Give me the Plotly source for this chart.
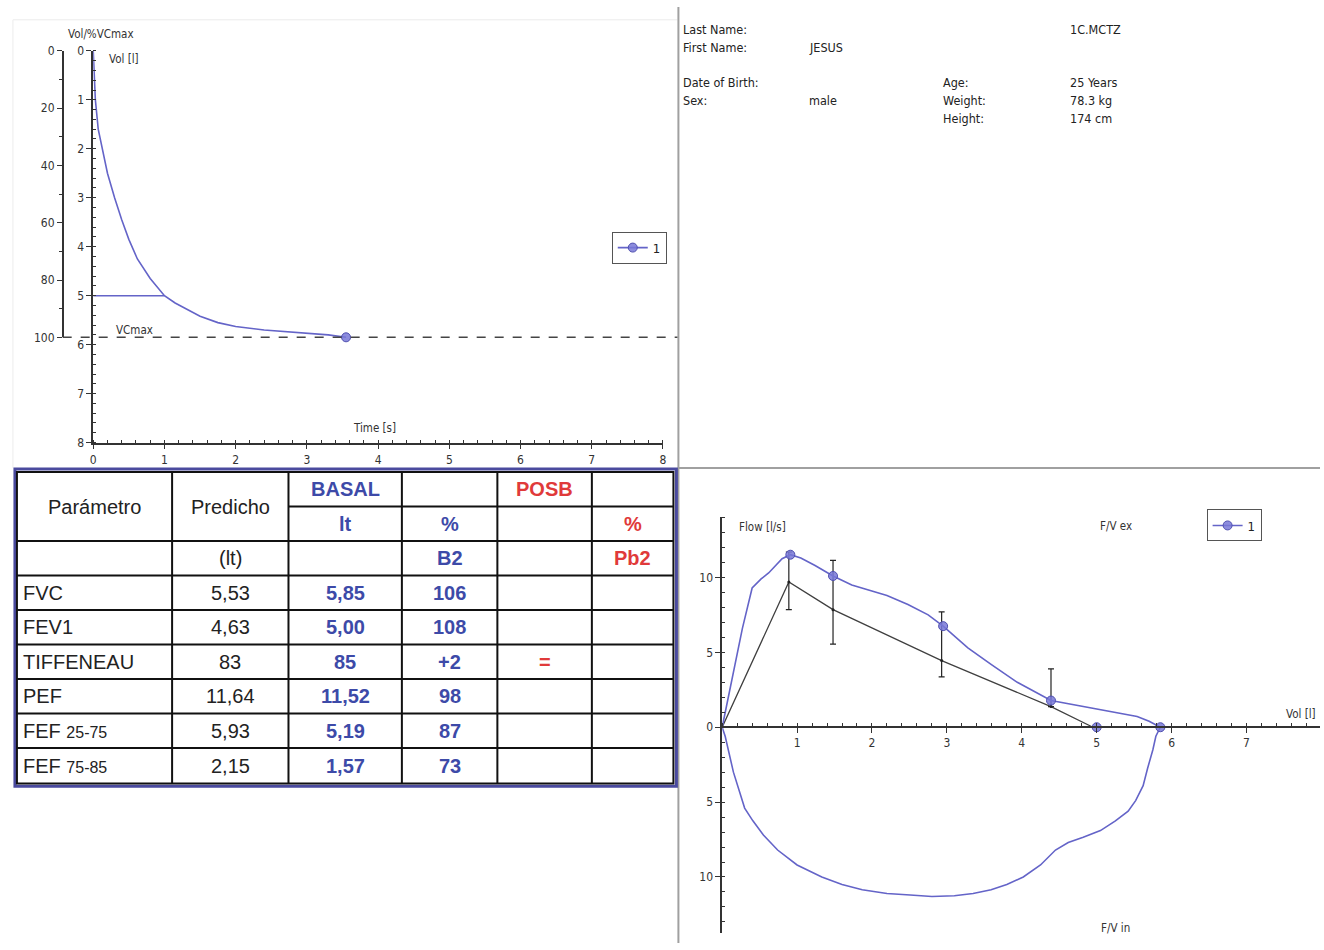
import plotly.graph_objects as go

# ------------------------------------------------------------------ data
# Volume-time curve (s, litres)
time_s = [0, 0.01, 0.03, 0.07, 0.13, 0.20, 0.30, 0.40, 0.50, 0.62, 0.80, 1.00,
          1.15, 1.30, 1.50, 1.75, 2.00, 2.40, 2.90, 3.30, 3.55]
volume_l = [0, 0.40, 1.00, 1.60, 2.05, 2.50, 3.00, 3.45, 3.85, 4.25, 4.65, 5.00,
            5.15, 5.27, 5.42, 5.55, 5.63, 5.70, 5.75, 5.80, 5.85]
fev1_time = 1.0
fev1_vol = 5.00
vcmax_l = 5.85
vt_end_t = [3.55]
vt_end_v = [5.85]

# Flow-volume: expiratory curve (l, l/s)
exp_vol = [0, 0.05, 0.16, 0.27, 0.40, 0.52, 0.62, 0.80, 0.91, 1.05, 1.24, 1.48,
           1.73, 1.99, 2.20, 2.48, 2.75, 2.95, 3.28, 3.59, 3.94, 4.39, 4.70,
           5.00, 5.30, 5.54, 5.70, 5.85]
exp_flow = [0, 1.2, 3.8, 6.6, 9.3, 9.9, 10.3, 11.25, 11.52, 11.3, 10.8, 10.1,
            9.5, 9.1, 8.8, 8.2, 7.5, 6.75, 5.3, 4.2, 3.0, 1.78, 1.5,
            1.2, 0.95, 0.72, 0.4, 0]
# Flow-volume: inspiratory curve (drawn below the axis)
insp_vol = [0, 0.04, 0.15, 0.30, 0.41, 0.55, 0.74, 1.00, 1.33, 1.60, 1.87, 2.20,
            2.51, 2.80, 3.10, 3.35, 3.59, 3.80, 4.02, 4.25, 4.45, 4.62, 4.82,
            5.05, 5.25, 5.42, 5.52, 5.62, 5.68, 5.75, 5.79, 5.85]
insp_flow = [0, -0.6, -3.0, -5.4, -6.25, -7.2, -8.2, -9.2, -10.0, -10.5, -10.85, -11.1,
             -11.2, -11.3, -11.25, -11.1, -10.85, -10.5, -10.0, -9.2, -8.2, -7.7, -7.35,
             -6.9, -6.25, -5.6, -4.9, -3.9, -2.74, -1.5, -0.6, 0]
# Measured points (PEF, FEF25, FEF50, FEF75, FEV1, FVC)
mark_vol = [0.91, 1.48, 2.95, 4.39, 5.00, 5.85]
mark_flow = [11.52, 10.1, 6.75, 1.78, 0, 0]
# Predicted curve and its ranges
pred_vol = [0, 0.89, 1.48, 2.93, 4.39, 4.95]
pred_flow = [0, 9.7, 7.85, 4.45, 1.38, 0]
range_vol = [0.89, 1.48, 2.93, 4.39]
range_mid = [9.7, 7.85, 4.45, 1.38]
range_lo = [7.85, 5.55, 3.36, 1.38]
range_hi = [11.7, 11.14, 7.7, 3.9]

# Flow axis ticks (inspiration shown as positive numbers)
flow_tickvals = [-10, -5, 0, 5, 10]
flow_ticktext = ["10", "5", "0", "5", "10"]

# Patient data
info_left_labels = ["Last Name:", "First Name:", "Date of Birth:", "Sex:"]
info_left_values = ["", "JESUS", "", "male"]
info_mid_labels = ["Age:", "Weight:", "Height:"]
info_mid_values = ["25 Years", "78.3 kg", "174 cm"]
patient_id = "1C.MCTZ"

# Results table
params = ["FVC", "FEV1", "TIFFENEAU", "PEF", "FEF 25-75", "FEF 75-85"]
predicho = ["5,53", "4,63", "83", "11,64", "5,93", "2,15"]
basal_lt = ["5,85", "5,00", "85", "11,52", "5,19", "1,57"]
basal_pct = ["106", "108", "+2", "98", "87", "73"]
posb_lt = ["", "", "=", "", "", ""]
posb_pct = ["", "", "", "", "", ""]

# ------------------------------------------------------------------ layout helpers
W, H = 1324, 950
def px(x):
    return x / W
def py(y):
    return 1 - y / H

BLUE = "#6464c8"
AXC = "#333333"
NARROW = "Liberation Sans Narrow, Arial Narrow, DejaVu Sans Condensed, sans-serif"
ARIAL = "Liberation Sans, Arial, sans-serif"
TBL_BLUE = "#3d4aa8"
TBL_RED = "#e03a3a"

fig = go.Figure()

# ---------------- volume-time chart
fig.add_trace(go.Scatter(x=time_s, y=volume_l, mode="lines",
                         line=dict(color=BLUE, width=1.6), showlegend=False,
                         hoverinfo="skip", xaxis="x", yaxis="y"))
fig.add_trace(go.Scatter(x=[0, fev1_time], y=[fev1_vol, fev1_vol], mode="lines",
                         line=dict(color=BLUE, width=1.6), showlegend=False,
                         hoverinfo="skip", xaxis="x", yaxis="y"))
fig.add_trace(go.Scatter(x=vt_end_t, y=vt_end_v, mode="lines+markers", name="1",
                         line=dict(color=BLUE, width=1.6),
                         marker=dict(symbol="circle", size=9, color="rgba(120,120,215,0.85)",
                                     line=dict(color="#5050b0", width=1)),
                         legend="legend", xaxis="x", yaxis="y"))
# percent axis helper trace (VCmax = 100 %)
fig.add_trace(go.Scatter(x=vt_end_t, y=[100], mode="markers", marker=dict(size=1, opacity=0),
                         showlegend=False, hoverinfo="skip", xaxis="x", yaxis="y2"))

# ---------------- flow-volume chart
fig.add_trace(go.Scatter(x=pred_vol, y=pred_flow, mode="lines",
                         line=dict(color="#404040", width=1.3), showlegend=False,
                         hoverinfo="skip", xaxis="x2", yaxis="y3"))
fig.add_trace(go.Scatter(x=range_vol, y=range_mid, mode="markers",
                         marker=dict(size=3, color="#222"),
                         error_y=dict(type="data", symmetric=False,
                                      array=[h - m for h, m in zip(range_hi, range_mid)],
                                      arrayminus=[m - l for m, l in zip(range_mid, range_lo)],
                                      color="#222", thickness=1.2, width=3),
                         showlegend=False, hoverinfo="skip", xaxis="x2", yaxis="y3"))
fig.add_trace(go.Scatter(x=exp_vol, y=exp_flow, mode="lines",
                         line=dict(color=BLUE, width=1.6), showlegend=False,
                         hoverinfo="skip", xaxis="x2", yaxis="y3"))
fig.add_trace(go.Scatter(x=insp_vol, y=insp_flow, mode="lines",
                         line=dict(color=BLUE, width=1.6), showlegend=False,
                         hoverinfo="skip", xaxis="x2", yaxis="y3"))
fig.add_trace(go.Scatter(x=mark_vol, y=mark_flow, mode="markers",
                         marker=dict(symbol="circle", size=9, color="rgba(120,120,215,0.85)",
                                     line=dict(color="#5050b0", width=1)),
                         showlegend=False, hoverinfo="skip", xaxis="x2", yaxis="y3"))
fig.add_trace(go.Scatter(x=[None], y=[None], mode="lines+markers", name="1",
                         line=dict(color=BLUE, width=1.6),
                         marker=dict(symbol="circle", size=9, color="rgba(120,120,215,0.85)",
                                     line=dict(color="#5050b0", width=1)),
                         legend="legend2", xaxis="x2", yaxis="y3"))

tickfont = dict(family=NARROW, size=12, color=AXC)
common = dict(showline=True, linecolor=AXC, linewidth=1.5, showgrid=False, zeroline=False,
              ticks="outside", ticklen=5, tickcolor=AXC, tickwidth=1, tickfont=tickfont,
              fixedrange=True)

# pixel geometry of the charts
T0, T_PX = 90.7, 71.6          # time axis origin & px per second
V0, V_PX = 44.5, 49.7          # volume axis origin & px per litre
F_X0, F_XPX = 723, 75.3        # flow chart volume axis
F_Y0, F_YPX = 731, 15.2        # flow chart flow axis
F_TOP, F_BOT = 518, 940

fig.update_layout(
    width=W, height=H, margin=dict(l=0, r=0, t=0, b=0),
    paper_bgcolor="white", plot_bgcolor="rgba(0,0,0,0)",
    xaxis=dict(domain=[px(T0), px(T0 + 8 * T_PX)], range=[0, 8], anchor="y",
               tickmode="array", tickvals=list(range(9)),
               minor=dict(dtick=0.2, ticks="inside", ticklen=3, tickcolor=AXC), **common),
    yaxis=dict(domain=[py(V0 + 8 * V_PX), py(V0)], range=[8, 0], anchor="x",
               dtick=1, minor=dict(dtick=0.2, ticks="inside", ticklen=3, tickcolor=AXC), **common),
    yaxis2=dict(domain=[py(V0 + vcmax_l * V_PX), py(V0)], range=[100, 0], anchor="free",
                position=px(60), dtick=20,
                minor=dict(dtick=10, ticks="outside", ticklen=3, tickcolor=AXC), **common),
    xaxis2=dict(domain=[px(F_X0), 1.0], range=[0, (W - F_X0) / F_XPX], anchor="free",
                position=py(F_Y0), tickmode="array", tickvals=list(range(1, 9)),
                minor=dict(dtick=0.2, ticks="inside", ticklen=3, tickcolor=AXC), **common),
    yaxis3=dict(domain=[py(F_BOT), py(F_TOP)],
                range=[-(F_BOT - F_Y0) / F_YPX, (F_Y0 - F_TOP) / F_YPX], anchor="x2",
                tickmode="array", tickvals=flow_tickvals, ticktext=flow_ticktext,
                minor=dict(dtick=1, ticks="inside", ticklen=3, tickcolor=AXC), **common),
    legend=dict(x=px(612), y=py(228), xanchor="left", yanchor="top", bgcolor="white",
                bordercolor="#555", borderwidth=1, font=dict(family=NARROW, size=13, color="#222"),
                itemwidth=30),
    legend2=dict(x=px(1210), y=py(510), xanchor="left", yanchor="top", bgcolor="white",
                 bordercolor="#555", borderwidth=1, font=dict(family=NARROW, size=13, color="#222"),
                 itemwidth=30),
    showlegend=True,
)

shapes = []
annots = []

def line(x0, y0, x1, y1, color, width, dash=None):
    d = dict(type="line", xref="paper", yref="paper", x0=px(x0), y0=py(y0), x1=px(x1), y1=py(y1),
             line=dict(color=color, width=width))
    if dash:
        d["line"]["dash"] = dash
    shapes.append(d)

def text(x, y, s, size=12, color="#222", family=NARROW, xanchor="left", bold=False):
    if bold:
        s = "<b>" + s + "</b>"
    annots.append(dict(xref="paper", yref="paper", x=px(x), y=py(y), text=s, showarrow=False,
                       xanchor=xanchor, yanchor="middle",
                       font=dict(family=family, size=size, color=color)))

# panel separators
line(10, 13, 678, 13, "#ececec", 1)
line(10, 13, 10, 468, "#ececec", 1)
line(679, 0, 679, 950, "#a0a0a0", 2)
line(679, 468, 1324, 468, "#a0a0a0", 2)

# VCmax dashed line (in data units)
shapes.append(dict(type="line", xref="paper", yref="y", x0=px(60), x1=px(678), y0=vcmax_l, y1=vcmax_l,
                   line=dict(color="#444", width=1.5, dash="dash")))

# chart labels
text(99, 27, "Vol/%VCmax", 11.5, AXC, xanchor="center")
text(105, 53, "Vol [l]", 11.5, AXC)
text(112, 328, "VCmax", 11.5, AXC)
text(350, 427, "Time [s]", 11.5, AXC)
text(738, 528, "Flow [l/s]", 11.5, AXC)
text(1101, 527, "F/V ex", 11.5, AXC)
text(1288, 718, "Vol [l]", 11.5, AXC)
text(1102, 935, "F/V in", 11.5, AXC)

# patient information
info_y = [23, 41, 77, 95]
for lab, val, y in zip(info_left_labels, info_left_values, info_y):
    text(682, y, lab, 12.5, "#222")
    if val:
        text(808, y, val, 12.5, "#222")
text(1071, 23, patient_id, 12.5, "#222")
for lab, val, y in zip(info_mid_labels, info_mid_values, [77, 95, 113]):
    text(943, y, lab, 12.5, "#222")
    text(1071, y, val, 12.5, "#222")

# ---------------- results table
col_edges = [14, 170, 287, 401, 497, 592, 674]
row_edges = [472, 507, 542, 577, 612, 647, 682, 717, 752, 788]

shapes.append(dict(type="rect", xref="paper", yref="paper", x0=px(12), y0=py(469), x1=px(677), y1=py(791),
                   line=dict(color="#4a4a9e", width=3)))
shapes.append(dict(type="rect", xref="paper", yref="paper", x0=px(col_edges[0]), y0=py(row_edges[0]),
                   x1=px(col_edges[-1]), y1=py(row_edges[-1]), line=dict(color="#111", width=2)))
for xe in col_edges[1:-1]:
    line(xe, row_edges[0], xe, row_edges[-1], "#111", 2)
line(col_edges[2], row_edges[1], col_edges[-1], row_edges[1], "#111", 2)
for ye in row_edges[2:-1]:
    line(col_edges[0], ye, col_edges[-1], ye, "#111", 2)

def cx(c):
    return (col_edges[c] + col_edges[c + 1]) / 2
def cy(r):
    return (row_edges[r] + row_edges[r + 1]) / 2

TS = 20
text(cx(0), row_edges[1], "Parámetro", TS, "#222", ARIAL, "center")
text(cx(1), row_edges[1], "Predicho", TS, "#222", ARIAL, "center")
text(cx(2), cy(0), "BASAL", TS, TBL_BLUE, ARIAL, "center", True)
text(cx(4), cy(0), "POSB", TS, TBL_RED, ARIAL, "center", True)
text(cx(2), cy(1), "lt", TS, TBL_BLUE, ARIAL, "center", True)
text(cx(3), cy(1), "%", TS, TBL_BLUE, ARIAL, "center", True)
text(cx(5), cy(1), "%", TS, TBL_RED, ARIAL, "center", True)
text(cx(1), cy(2), "(lt)", TS, "#222", ARIAL, "center")
text(cx(3), cy(2), "B2", TS, TBL_BLUE, ARIAL, "center", True)
text(cx(5), cy(2), "Pb2", TS, TBL_RED, ARIAL, "center", True)

for i, name in enumerate(params):
    r = i + 3
    if name.startswith("FEF "):
        label = "FEF <span style='font-size:16px'>" + name[4:] + "</span>"
    else:
        label = name
    text(col_edges[0] + 4, cy(r), label, TS, "#222", ARIAL, "left")
    text(cx(1), cy(r), predicho[i], TS, "#222", ARIAL, "center")
    text(cx(2), cy(r), basal_lt[i], TS, TBL_BLUE, ARIAL, "center", True)
    text(cx(3), cy(r), basal_pct[i], TS, TBL_BLUE, ARIAL, "center", True)
    if posb_lt[i]:
        text(cx(4), cy(r), posb_lt[i], TS, TBL_RED, ARIAL, "center", True)
    if posb_pct[i]:
        text(cx(5), cy(r), posb_pct[i], TS, TBL_RED, ARIAL, "center", True)

fig.update_layout(shapes=shapes, annotations=annots)

fig.write_html("out.html", config={"displayModeBar": False},
               post_script="document.body.style.margin='0';document.body.style.overflow='hidden';")
